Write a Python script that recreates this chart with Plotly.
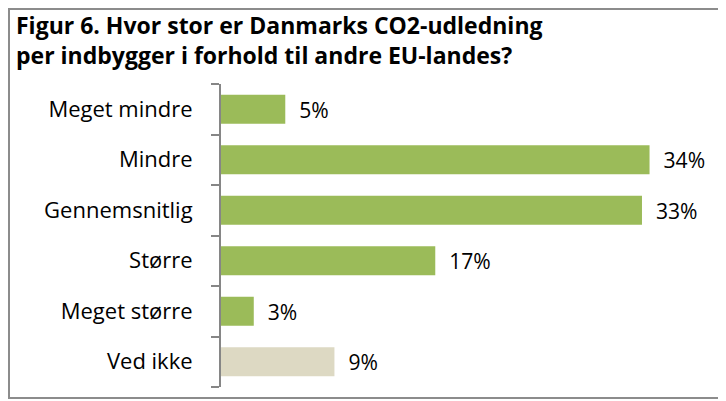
import plotly.graph_objects as go

# Figur 6 - CO2-udledning per indbygger, Danmark vs. andre EU-lande

kategorier = ["Meget mindre", "Mindre", "Gennemsnitlig", "Større", "Meget større", "Ved ikke"]
andele = [5.1, 34.0, 33.4, 17.0, 2.6, 9.0]
farver = ["#9BBB59", "#9BBB59", "#9BBB59", "#9BBB59", "#9BBB59", "#DDD9C3"]

titel = "<b>Figur 6. Hvor stor er Danmarks CO2-udledning<br>per indbygger i forhold til andre EU-landes?</b>"

FONT = "Open Sans"
W, H = 718, 393
# plotområdets kant i pixels (siden har 8px margin)
L, R, T, B = 213, 697, 76, 379

# kategoriernes placering på y-aksen
pos = list(range(len(kategorier)))


def px_x(x):
    return (x - L) / (R - L)


def px_y(y):
    return (B - y) / (B - T)


fig = go.Figure(go.Bar(
    x=andele,
    y=pos,
    orientation="h",
    marker=dict(color=farver, line=dict(width=0)),
    texttemplate="  %{x:.0f}%",
    textposition="outside",
    textfont=dict(size=22, color="#000000", family=FONT),
    cliponaxis=False,
    hoverinfo="skip",
))

fig.update_layout(
    width=W, height=H,
    margin=dict(l=L, r=W - R, t=T, b=H - B, autoexpand=False),
    paper_bgcolor="white",
    plot_bgcolor="white",
    font=dict(family=FONT, color="#000000"),
    showlegend=False,
    bargap=0.43,
    annotations=[dict(
        text=titel, showarrow=False,
        xref="paper", yref="paper",
        x=px_x(6), y=px_y(-1),
        xanchor="left", yanchor="top", align="left",
        font=dict(size=23, family=FONT, color="#000000"),
    )],
    # grå ramme om hele figuren
    shapes=[dict(
        type="rect", xref="paper", yref="paper",
        x0=px_x(1), x1=px_x(W - 3),
        y0=px_y(H - 3), y1=px_y(1),
        line=dict(color="#8C8C8C", width=2),
        fillcolor="rgba(0,0,0,0)",
        layer="below",
    )],
)

fig.update_xaxes(
    range=[0, 38.4],
    showgrid=False, zeroline=False, showticklabels=False, showline=False,
)

fig.update_yaxes(
    range=[len(kategorier) - 0.5, -0.5],
    tickmode="array", tickvals=pos, ticktext=kategorier,
    showline=True, linecolor="#868686", linewidth=2,
    ticks="outside", ticklen=8, tickcolor="rgba(0,0,0,0)", tickwidth=2,
    minor=dict(tick0=0.5, dtick=1, ticks="outside", ticklen=8,
               tickcolor="#868686", tickwidth=2, showgrid=False),
    ticklabelstandoff=14,
    tickfont=dict(size=22, family=FONT, color="#000000"),
    showgrid=False, zeroline=False,
)

fig.write_html("out.html")
